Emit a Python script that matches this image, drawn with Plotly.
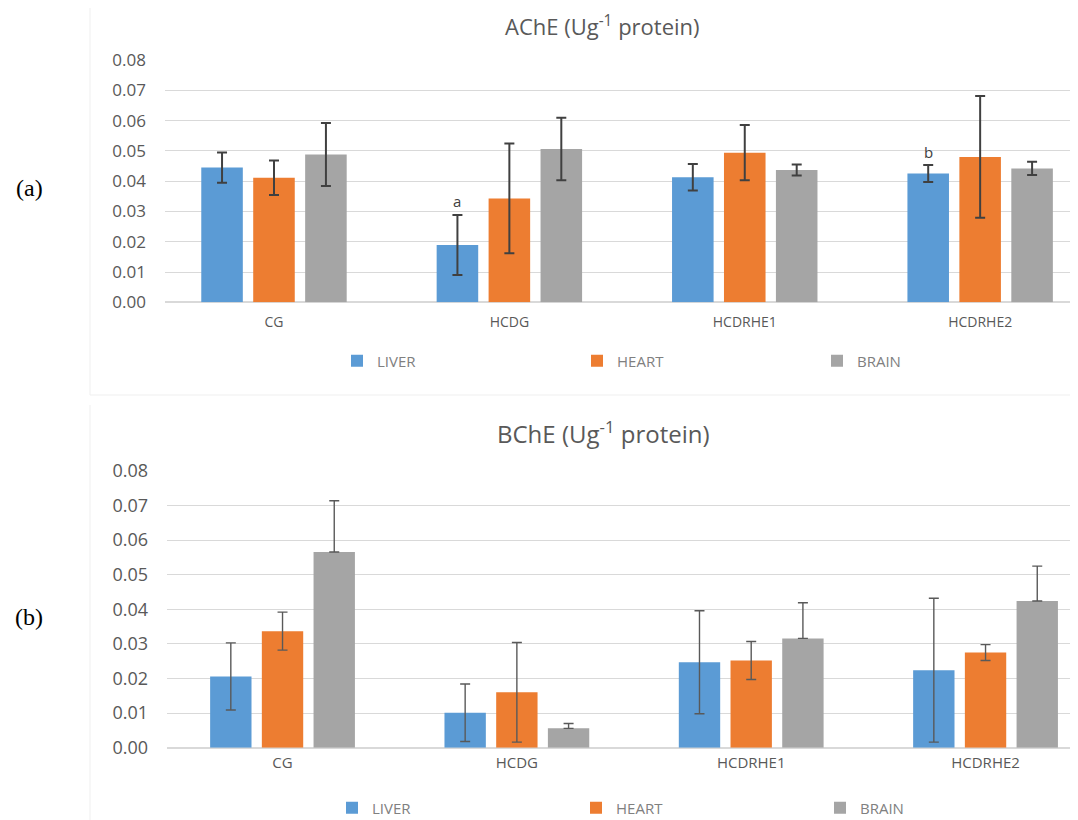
import plotly.graph_objects as go

# page body has an 8px margin: figure is sized/positioned to compensate
OFF = 8
W, H = 1078 - OFF, 820 - OFF

categories = ["CG", "HCDG", "HCDRHE1", "HCDRHE2"]
series_names = ["LIVER", "HEART", "BRAIN"]
colors = ["#5B9BD5", "#ED7D31", "#A5A5A5"]

# AChE (top panel)
ache_liver = [0.0445, 0.0189, 0.0413, 0.0425]
ache_heart = [0.0411, 0.0343, 0.0494, 0.0480]
ache_brain = [0.0488, 0.0506, 0.0437, 0.0442]
ache_liver_err = [0.0050, 0.0099, 0.0044, 0.0028]
ache_heart_err = [0.0057, 0.0181, 0.0091, 0.0201]
ache_brain_err = [0.0104, 0.0103, 0.0018, 0.0022]

# BChE (bottom panel)
bche_liver = [0.0206, 0.0101, 0.0247, 0.0224]
bche_heart = [0.0337, 0.0160, 0.0252, 0.0275]
bche_brain = [0.0566, 0.0056, 0.0316, 0.0424]
bche_liver_err = [0.0097, 0.0083, 0.0149, 0.0208]
bche_heart_err = [0.0055, 0.0144, 0.0055, 0.0023]
bche_brain_err_plus = [0.0148, 0.0014, 0.0103, 0.0101]
bche_brain_err_minus = [0.0, 0.0, 0.0, 0.0]

y_ticks = [0.00, 0.01, 0.02, 0.03, 0.04, 0.05, 0.06, 0.07, 0.08]

FONT = "Open Sans"
GREY_TXT = "#595959"


def px_x(p):
    # p: screen pixel x -> paper fraction
    return (p - OFF) / W


def px_y(p):
    # p: screen pixel y -> paper fraction
    return 1 - (p - OFF) / H


fig = go.Figure()

top_vals = [ache_liver, ache_heart, ache_brain]
top_errs = [ache_liver_err, ache_heart_err, ache_brain_err]
for name, col, vals, errs in zip(series_names, colors, top_vals, top_errs):
    fig.add_trace(go.Bar(
        x=categories, y=vals, name=name, marker=dict(color=col, line=dict(width=0)),
        error_y=dict(type="data", array=errs, visible=True, color="#404040",
                     thickness=2, width=5),
        xaxis="x", yaxis="y", legend="legend",
    ))

bot_vals = [bche_liver, bche_heart, bche_brain]
bot_errs = [
    dict(array=bche_liver_err),
    dict(array=bche_heart_err),
    dict(array=bche_brain_err_plus, arrayminus=bche_brain_err_minus, symmetric=False),
]
for name, col, vals, e in zip(series_names, colors, bot_vals, bot_errs):
    fig.add_trace(go.Bar(
        x=categories, y=vals, name=name, marker=dict(color=col, line=dict(width=0)),
        error_y=dict(type="data", visible=True, color="#595959",
                     thickness=1.4, width=5, **e),
        xaxis="x2", yaxis="y2", legend="legend2",
    ))

axis_common_y = dict(
    range=[0, 0.08], tickvals=y_ticks, tickformat=".2f",
    showgrid=True, gridcolor="#d9d9d9", gridwidth=1,
    zeroline=True, zerolinecolor="#d9d9d9", zerolinewidth=1.5,
    showline=False, ticks="", ticklabelstandoff=18, fixedrange=True,
    automargin=False,
)

fig.update_layout(
    width=W, height=H,
    margin=dict(l=0, r=0, t=0, b=0, autoexpand=False),
    paper_bgcolor="white", plot_bgcolor="white",
    barmode="group", bargap=0.338, bargroupgap=0.2,
    font=dict(family=FONT, color=GREY_TXT),
    xaxis=dict(domain=[px_x(165), 1], anchor="y",
               range=[-0.463, 3.45 - OFF / 233.3], type="category",
               showgrid=False, zeroline=False, showline=False, ticks="",
               tickfont=dict(size=14, color=GREY_TXT), ticklabelstandoff=10,
               automargin=False, fixedrange=True),
    yaxis=dict(domain=[px_y(302.3), px_y(60)], anchor="x",
               tickfont=dict(size=17, color=GREY_TXT), **axis_common_y),
    xaxis2=dict(domain=[px_x(167), 1], anchor="y2",
                range=[-0.493, 3.429 - OFF / 232.3], type="category",
                showgrid=False, zeroline=False, showline=False, ticks="",
                tickfont=dict(size=15, color=GREY_TXT), ticklabelstandoff=4,
                automargin=False, fixedrange=True),
    yaxis2=dict(domain=[px_y(747.7), px_y(471)], anchor="x2",
                tickfont=dict(size=18, color=GREY_TXT), **axis_common_y),
    legend=dict(orientation="h", x=px_x(337), y=px_y(361), xanchor="left", yanchor="middle",
                entrywidth=195, font=dict(size=15, color="#808080", family=FONT),
                bgcolor="rgba(0,0,0,0)", itemclick=False, itemdoubleclick=False),
    legend2=dict(orientation="h", x=px_x(332), y=px_y(808), xanchor="left", yanchor="middle",
                 entrywidth=199, font=dict(size=15, color="#808080", family=FONT),
                 bgcolor="rgba(0,0,0,0)", itemclick=False, itemdoubleclick=False),
    showlegend=True,
)

annotations = [
    dict(text="AChE (Ug<sup>-1</sup> protein)", x=px_x(602), y=1, xref="paper", yref="paper",
         xanchor="center", yanchor="top", showarrow=False,
         font=dict(size=22, color=GREY_TXT, family=FONT)),
    dict(text="BChE (Ug<sup>-1</sup> protein)", x=px_x(603), y=px_y(432), xref="paper", yref="paper",
         xanchor="center", yanchor="middle", showarrow=False,
         font=dict(size=24, color=GREY_TXT, family=FONT)),
    dict(text="(a)", x=px_x(29), y=px_y(188), xref="paper", yref="paper",
         xanchor="center", yanchor="middle", showarrow=False,
         font=dict(size=24, color="black", family="Liberation Serif")),
    dict(text="(b)", x=px_x(29), y=px_y(617), xref="paper", yref="paper",
         xanchor="center", yanchor="middle", showarrow=False,
         font=dict(size=24, color="black", family="Liberation Serif")),
    dict(text="a", x=categories[1], y=ache_liver[1] + ache_liver_err[1], xref="x", yref="y",
         xshift=-52, yshift=2, xanchor="center", yanchor="bottom", showarrow=False,
         font=dict(size=15, color="#404040", family=FONT)),
    dict(text="b", x=categories[3], y=ache_liver[3] + ache_liver_err[3], xref="x", yref="y",
         xshift=-52, yshift=1, xanchor="center", yanchor="bottom", showarrow=False,
         font=dict(size=15, color="#404040", family=FONT)),
]
fig.update_layout(annotations=annotations)

shapes = [
    dict(type="line", xref="paper", yref="paper", x0=px_x(90), x1=px_x(90), y0=px_y(OFF), y1=px_y(395),
         line=dict(color="#efefef", width=1)),
    dict(type="line", xref="paper", yref="paper", x0=px_x(90), x1=1, y0=px_y(395), y1=px_y(395),
         line=dict(color="#efefef", width=1)),
    dict(type="line", xref="paper", yref="paper", x0=px_x(90), x1=px_x(90), y0=px_y(405), y1=0,
         line=dict(color="#efefef", width=1)),
]
fig.update_layout(shapes=shapes)

fig.write_html("out.html")
